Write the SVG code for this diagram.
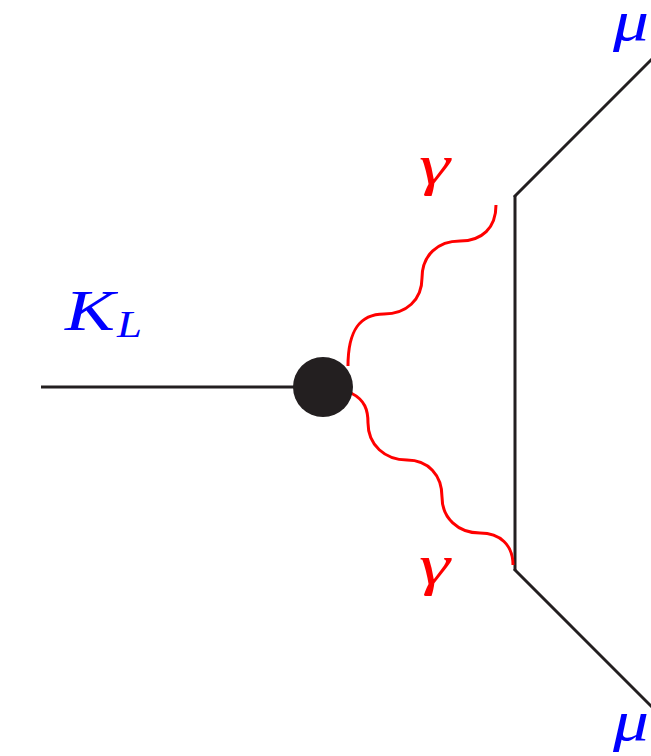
<svg xmlns="http://www.w3.org/2000/svg" width="651" height="756" viewBox="0 0 651 756">
<style>
.line{stroke:#231f20;stroke-width:3;fill:none;stroke-linecap:butt}
.photon{stroke:#ff0000;stroke-width:3;fill:none}
.lbl{font-family:"Liberation Serif","DejaVu Serif",serif;font-style:italic}
.blue{fill:#0000ff}
.red{fill:#ff0000}
</style>
<rect width="651" height="756" fill="#ffffff"/>
<g id="connectors">
<line class="line" x1="41" y1="387" x2="300" y2="387"/>
<path class="line" d="M515,196 L515,570" stroke-width="4"/>
<line class="line" x1="514" y1="197" x2="652" y2="59"/>
<line class="line" x1="514" y1="569" x2="652" y2="707"/>
<path class="photon" d="M348,366 C348,330 360,314 384,314 C406,314 422,300 422,278 C422,255 438,241 460,241 C482,241 496,228 496,205"/>
<path class="photon" d="M351,393 C365,400 368,410 368,423 C368,445 385,460 407,460 C428,460 442,475 442,497 C442,518 458,533 480,533 C500,533 513,545 513,565"/>
</g>
<g id="blob">
<circle cx="323" cy="387" r="30" fill="#231f20"/>
</g>
<g id="label-KL">
<text class="lbl blue" x="65" y="330" font-size="56" textLength="50" lengthAdjust="spacingAndGlyphs">K</text>
<text class="lbl blue" x="117" y="337" font-size="38" textLength="25" lengthAdjust="spacingAndGlyphs">L</text>
</g>
<g id="label-gamma-top">
<text class="lbl red" x="419" y="184" font-size="56" textLength="31" lengthAdjust="spacingAndGlyphs">γ</text>
</g>
<g id="label-gamma-bottom">
<text class="lbl red" x="419" y="584" font-size="56" textLength="31" lengthAdjust="spacingAndGlyphs">γ</text>
</g>
<g id="label-mu-top">
<text class="lbl blue" x="613" y="40" font-size="56" textLength="36" lengthAdjust="spacingAndGlyphs">μ</text>
</g>
<g id="label-mu-bottom">
<text class="lbl blue" x="613" y="740" font-size="56" textLength="36" lengthAdjust="spacingAndGlyphs">μ</text>
</g>
</svg>
